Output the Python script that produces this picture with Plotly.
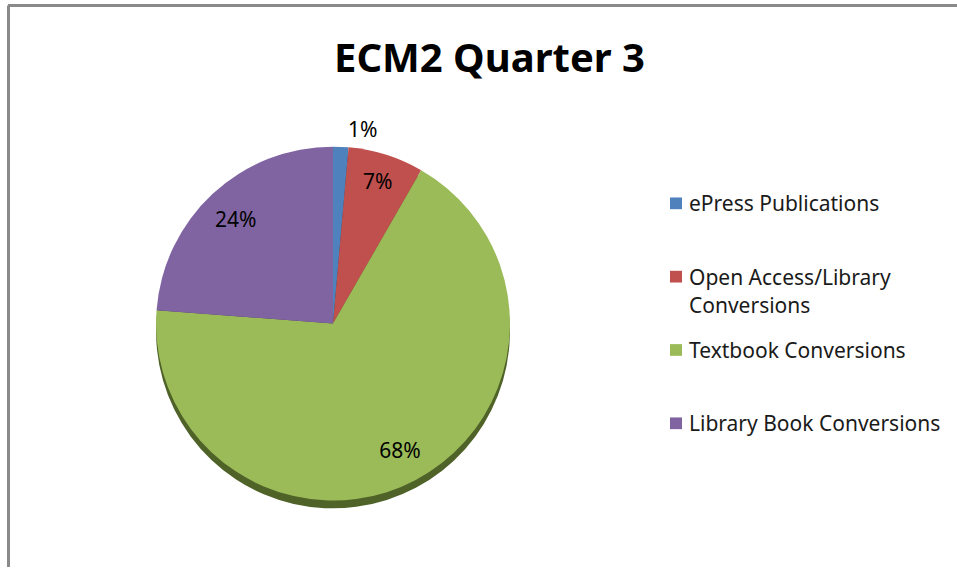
import plotly.graph_objects as go

W, H = 957, 580

title_text = "ECM2 Quarter 3"
labels = ["ePress Publications", "Open Access/Library<br>Conversions",
          "Textbook Conversions", "Library Book Conversions"]
values = [1.4, 6.9, 67.9, 23.8]
colors = ["#4F81BD", "#C0504D", "#9BBB59", "#8064A2"]
shadow_colors = ["#2c4a70", "#6e2c2a", "#4f6228", "#46365c"]
text_positions = ["outside", "inside", "inside", "inside"]

FONT = "Noto Sans"

# pie geometry (pixels)
cx, cy, r, lab = 333, 331, 181, 40
shadow_dy = 8


def py(y):
    return 1 - y / H


def dom(cx_, cy_, rx, ry):
    return dict(x=[(cx_ - rx) / W, (cx_ + rx) / W],
                y=[py(cy_ + ry), py(cy_ - ry)])


fig = go.Figure()
# bottom shadow rim
fig.add_trace(go.Pie(
    labels=labels, values=values, sort=False, direction="clockwise", rotation=0,
    marker=dict(colors=shadow_colors, line=dict(width=0)),
    textinfo="none", showlegend=False, hoverinfo="skip",
    domain=dom(cx, cy + shadow_dy, r, r),
))
# main pie
fig.add_trace(go.Pie(
    labels=labels, values=values, sort=False, direction="clockwise", rotation=0,
    marker=dict(colors=colors, line=dict(width=0)),
    textinfo="none", showlegend=False,
    hoverinfo="label+percent",
    domain=dom(cx, cy, r, r),
))
# transparent ring carrying the percentage labels (places text at ~0.79 r)
fig.add_trace(go.Pie(
    labels=labels, values=values, sort=False, direction="clockwise", rotation=0,
    hole=0.58,
    marker=dict(colors=["rgba(0,0,0,0)"] * len(values), line=dict(width=0)),
    texttemplate="%{percent:.0%}",
    textposition=text_positions,
    insidetextorientation="horizontal",
    textfont=dict(family=FONT, size=21, color="black"),
    outsidetextfont=dict(family=FONT, size=21, color="black"),
    showlegend=False, hoverinfo="skip",
    domain=dom(cx, cy, r, r + lab),
))

annotations = [dict(text="<b>" + title_text + "</b>", x=489 / W, y=py(58),
                    xref="paper", yref="paper", showarrow=False,
                    xanchor="center", yanchor="middle",
                    font=dict(family=FONT, size=40, color="black"))]
shapes = [
    dict(type="line", xref="paper", yref="paper", x0=8 / W, x1=1, y0=py(5.5), y1=py(5.5),
         line=dict(color="#8a8a8a", width=3)),
    dict(type="line", xref="paper", yref="paper", x0=8.5 / W, x1=8.5 / W, y0=0, y1=py(5.5),
         line=dict(color="#8a8a8a", width=3)),
]

# manual legend built from labels/colors
leg_x, leg_y0, leg_step, line_step, sq = 670, 208, 75, 29, 12
for i, (lbl, col) in enumerate(zip(labels, colors)):
    yy = leg_y0 + i * leg_step
    shapes.append(dict(type="rect", xref="paper", yref="paper",
                       x0=leg_x / W, x1=(leg_x + sq) / W,
                       y0=py(yy + sq / 2), y1=py(yy - sq / 2),
                       fillcolor=col, line=dict(width=0)))
    for j, line in enumerate(lbl.split("<br>")):
        annotations.append(dict(text=line, x=(leg_x + 17) / W,
                                y=py(yy + j * line_step),
                                xref="paper", yref="paper", showarrow=False,
                                xanchor="left", yanchor="middle", align="left",
                                font=dict(family=FONT, size=21, color="#1a1a1a")))

fig.update_layout(
    width=W, height=H, autosize=False,
    margin=dict(l=0, r=0, t=0, b=0),
    paper_bgcolor="white", plot_bgcolor="white",
    annotations=annotations, shapes=shapes,
)

post = ("document.body.style.margin='0px';"
        "document.body.style.overflow='hidden';")

fig.write_html("out.html", config={"displayModeBar": False, "responsive": False},
               post_script=post)
